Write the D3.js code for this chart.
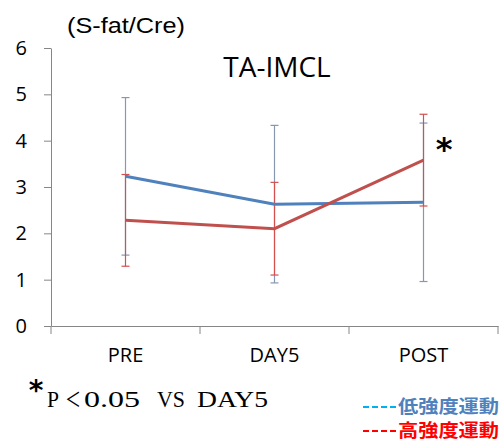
<!DOCTYPE html>
<html>
<head>
<meta charset="utf-8">
<script src="https://cdn.jsdelivr.net/npm/d3@7"></script>
<style>
  body { margin: 0; background: #fff; }
  svg { display: block; }
</style>
</head>
<body>
<svg width="502" height="441"></svg>
<script>
const categories = ['PRE', 'DAY5', 'POST'];
const lowMean = [3.23, 2.63, 2.67];
const lowSD = [1.70, 1.70, 1.71];
const highMean = [2.28, 2.10, 3.58];
const highSD = [0.99, 1.00, 0.99];
const yTicks = [0, 1, 2, 3, 4, 5, 6];

const svg = d3.select('svg');

const x = d3.scaleBand().domain(categories).range([51, 498]);
const y = d3.scaleLinear().domain([0, 6]).range([326, 48]);
const cx = c => x(c) + x.bandwidth() / 2;

// y axis
const yAxis = svg.append('g')
  .attr('transform', 'translate(51,0)')
  .call(d3.axisLeft(y).tickValues(yTicks).tickFormat(d3.format('d'))
    .tickSize(7).tickPadding(17).tickSizeOuter(0));
yAxis.select('.domain').attr('stroke', '#868686');
yAxis.selectAll('.tick line').attr('stroke', '#868686');
yAxis.selectAll('.tick text')
  .attr('font-family', 'Open Sans')
  .attr('font-size', 20)
  .attr('fill', '#000');

// x axis, ticks sit on the band edges
const xAxis = svg.append('g')
  .attr('transform', 'translate(0,326)')
  .call(d3.axisBottom(x).tickSize(0).tickPadding(22));
xAxis.select('.domain').attr('stroke', '#868686');
xAxis.selectAll('.tick text')
  .attr('font-family', 'Open Sans')
  .attr('font-size', 20)
  .attr('fill', '#000');
const edges = categories.map(c => x(c)).concat([x.range()[1]]);
xAxis.selectAll('.edge')
  .data(edges)
  .enter()
  .append('line')
  .attr('x1', d => d).attr('x2', d => d)
  .attr('y1', 0).attr('y2', 8)
  .attr('stroke', '#868686');

// error bars
const drawErr = (mean, sd, color) => {
  const g = svg.append('g').attr('stroke', color).attr('stroke-width', 1.2);
  const rows = categories.map((c, i) => ({ c, lo: mean[i] - sd[i], hi: mean[i] + sd[i] }));
  g.selectAll('.v').data(rows).enter().append('line')
    .attr('x1', d => cx(d.c)).attr('x2', d => cx(d.c))
    .attr('y1', d => y(d.lo)).attr('y2', d => y(d.hi));
  ['lo', 'hi'].forEach(k => {
    g.selectAll('.cap' + k).data(rows).enter().append('line')
      .attr('x1', d => cx(d.c) - 4).attr('x2', d => cx(d.c) + 4)
      .attr('y1', d => y(d[k])).attr('y2', d => y(d[k]));
  });
};
drawErr(lowMean, lowSD, '#8797b2');
drawErr(highMean, highSD, '#d4504f');

// lines
const line = d3.line().x((d, i) => cx(categories[i])).y(d => y(d));
svg.append('path').datum(lowMean)
  .attr('d', line).attr('fill', 'none')
  .attr('stroke', '#4f81bd').attr('stroke-width', 3);
svg.append('path').datum(highMean)
  .attr('d', line).attr('fill', 'none')
  .attr('stroke', '#c0504d').attr('stroke-width', 3);

// texts
svg.append('text')
  .attr('x', 67).attr('y', 33)
  .attr('font-family', 'Liberation Sans')
  .attr('font-size', 22)
  .attr('textLength', 118)
  .attr('lengthAdjust', 'spacingAndGlyphs')
  .text('(S-fat/Cre)');

svg.append('text')
  .attr('x', 277).attr('y', 77)
  .attr('text-anchor', 'middle')
  .attr('font-family', 'Open Sans')
  .attr('font-size', 28)
  .text('TA-IMCL');

svg.append('text')
  .attr('x', 444).attr('y', 160)
  .attr('text-anchor', 'middle')
  .attr('font-family', 'DejaVu Sans')
  .attr('font-weight', 'bold')
  .attr('font-size', 32)
  .text('*');

// footnote
svg.append('text')
  .attr('x', 36).attr('y', 400)
  .attr('text-anchor', 'middle')
  .attr('font-family', 'DejaVu Sans')
  .attr('font-weight', 'bold')
  .attr('font-size', 28)
  .text('*');
const noteParts = [
  ['P', 47, 12, 23, 'Liberation Serif'],
  ['＜', 65, 16, 20, 'Noto Sans CJK JP'],
  ['0.05', 84, 56, 23, 'Liberation Serif'],
  ['VS', 157, 28, 23, 'Liberation Serif'],
  ['DAY5', 197, 71, 23, 'Liberation Serif']
];
svg.selectAll('.note')
  .data(noteParts)
  .enter()
  .append('text')
  .attr('x', d => d[1]).attr('y', 407)
  .attr('font-family', d => d[4])
  .attr('font-size', d => d[3])
  .attr('textLength', d => d[2])
  .attr('lengthAdjust', 'spacingAndGlyphs')
  .text(d => d[0]);

// legend
const legend = [
  { label: '低強度運動', dash: '#00b0f0', color: '#4f81bd', y: 413 },
  { label: '高強度運動', dash: '#ff0000', color: '#ff0000', y: 437 }
];
const lg = svg.append('g');
lg.selectAll('.dash').data(legend).enter().append('line')
  .attr('x1', 363).attr('x2', 397)
  .attr('y1', d => d.y - 6).attr('y2', d => d.y - 6)
  .attr('stroke', d => d.dash)
  .attr('stroke-width', 2)
  .attr('stroke-dasharray', '6,3');
lg.selectAll('.lbl').data(legend).enter().append('text')
  .attr('x', 398).attr('y', d => d.y)
  .attr('font-family', 'Noto Sans CJK JP')
  .attr('font-weight', 'bold')
  .attr('font-size', 18)
  .attr('textLength', 101)
  .attr('lengthAdjust', 'spacingAndGlyphs')
  .attr('fill', d => d.color)
  .text(d => d.label);
</script>
</body>
</html>
